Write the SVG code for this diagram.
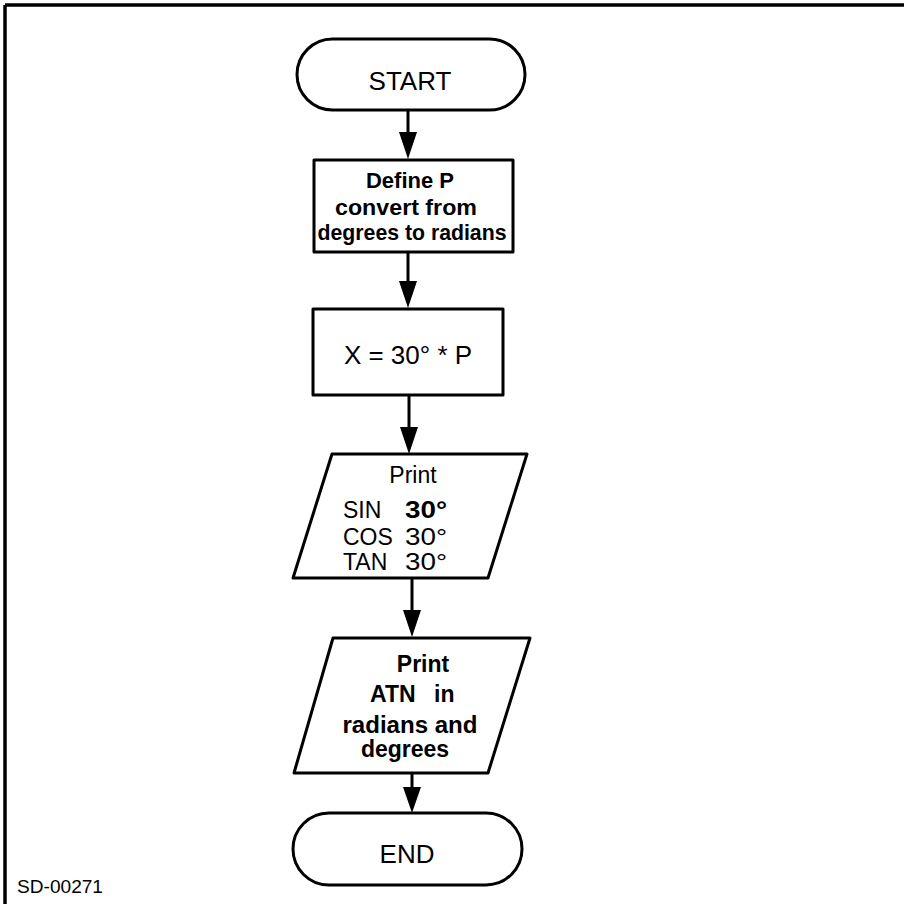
<svg xmlns="http://www.w3.org/2000/svg" width="904" height="904" viewBox="0 0 904 904">
  <style>
    .shape { fill: #ffffff; stroke: #000000; stroke-width: 3; stroke-linejoin: round; }
    .frame { stroke: #000000; stroke-width: 3.5; fill: none; }
    .wire { stroke: #000000; stroke-width: 3; fill: none; }
    .head { fill: #000000; }
    text { font-family: "Liberation Sans", "DejaVu Sans", Arial, sans-serif; fill: #000000; }
    .lbl { font-size: 26px; text-anchor: middle; }
    .bold { font-weight: bold; }
    .small { font-size: 22px; }
    .row { font-size: 23px; }
  </style>

  <rect width="904" height="904" fill="#ffffff"/>

  <!-- sheet frame: top and left edges -->
  <g id="frame">
    <line class="frame" x1="5" y1="5" x2="904" y2="5"/>
    <line class="frame" x1="5" y1="5" x2="5" y2="904"/>
  </g>

  <!-- connectors: shaft plus solid arrowhead -->
  <g id="connectors">
    <line class="wire" x1="408" y1="110" x2="408" y2="133"/>
    <path class="head" d="M399,132 L417,132 L408,159 Z"/>
    <line class="wire" x1="408" y1="252" x2="408" y2="282"/>
    <path class="head" d="M399,281 L417,281 L408,308 Z"/>
    <line class="wire" x1="409" y1="395" x2="409" y2="428"/>
    <path class="head" d="M400,427 L418,427 L409,454 Z"/>
    <line class="wire" x1="412" y1="578" x2="412" y2="611"/>
    <path class="head" d="M403,610 L421,610 L412,637 Z"/>
    <line class="wire" x1="412" y1="773" x2="412" y2="788"/>
    <path class="head" d="M403,787 L421,787 L412,813 Z"/>
  </g>

  <g id="start">
    <rect class="shape" x="297" y="39" width="228" height="71" rx="35.5" ry="35.5"/>
    <text class="lbl" x="410" y="90">START</text>
  </g>

  <g id="define-p">
    <rect class="shape" x="314" y="160" width="199" height="92"/>
    <text class="lbl bold small" x="410" y="188">Define P</text>
    <text class="lbl bold small" x="406" y="215" textLength="142" lengthAdjust="spacingAndGlyphs">convert from</text>
    <text class="lbl bold small" x="412" y="240" textLength="189" lengthAdjust="spacingAndGlyphs">degrees to radians</text>
  </g>

  <g id="assign-x">
    <rect class="shape" x="313" y="309" width="190" height="86"/>
    <text class="lbl" x="408" y="364">X = 30° * P</text>
  </g>

  <g id="print-trig">
    <polygon class="shape" points="332,454 527,454 488,578 293,578"/>
    <text class="lbl row" x="413" y="483">Print</text>
    <text class="row" x="343" y="518">SIN</text>
    <text class="row bold" x="405" y="518" textLength="42" lengthAdjust="spacingAndGlyphs">30°</text>
    <text class="row" x="343" y="545">COS</text>
    <text class="row" x="405" y="545" textLength="42" lengthAdjust="spacingAndGlyphs">30°</text>
    <text class="row" x="343" y="570">TAN</text>
    <text class="row" x="405" y="570" textLength="42" lengthAdjust="spacingAndGlyphs">30°</text>
  </g>

  <g id="print-atn">
    <polygon class="shape" points="333,638 530,638 488,773 294,773"/>
    <text class="lbl row bold" x="423" y="672">Print</text>
    <text class="row bold" x="370" y="702">ATN</text>
    <text class="row bold" x="434" y="702">in</text>
    <text class="lbl row bold" x="410" y="733" textLength="135" lengthAdjust="spacingAndGlyphs">radians and</text>
    <text class="lbl row bold" x="405" y="757">degrees</text>
  </g>

  <g id="end">
    <rect class="shape" x="293" y="813" width="229" height="72" rx="36" ry="36"/>
    <text class="lbl" x="407" y="863">END</text>
  </g>

  <text x="17" y="893" font-size="19" textLength="86" lengthAdjust="spacingAndGlyphs">SD-00271</text>
</svg>
